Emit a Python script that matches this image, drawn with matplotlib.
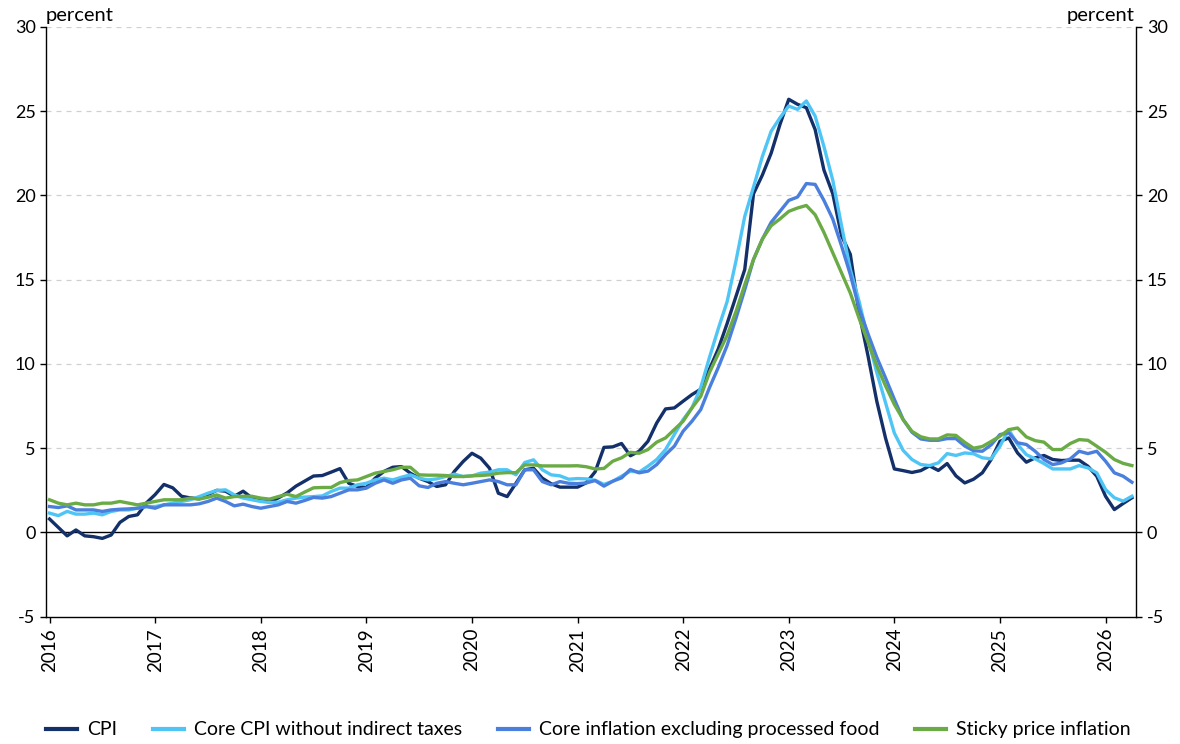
import matplotlib
matplotlib.use("Agg")
import matplotlib.pyplot as plt
import numpy as np

# monthly data, Jan 2016 .. Apr 2026
START_YEAR = 2016
YEARS = list(range(2016, 2027))

cpi = [
    0.8, 0.3, -0.2, 0.15, -0.2, -0.25, -0.35, -0.15, 0.6, 0.95, 1.05, 1.75,
    2.25, 2.85, 2.65, 2.15, 2.05, 2.0, 2.25, 2.5, 2.45, 2.15, 2.45, 2.05,
    1.95, 1.8, 2.05, 2.35, 2.75, 3.05, 3.35, 3.38, 3.58, 3.79, 2.92, 2.73,
    2.67, 3.22, 3.62, 3.87, 3.91, 3.52, 3.22, 3.02, 2.73, 2.83, 3.62, 4.21,
    4.7, 4.41, 3.81, 2.33, 2.13, 2.92, 3.72, 3.81, 3.22, 2.89, 2.69, 2.69,
    2.69, 2.95, 3.6, 5.05, 5.08, 5.28, 4.55, 4.82, 5.41, 6.5, 7.33, 7.39,
    7.79, 8.18, 8.5, 9.7, 10.9, 12.4, 14.0, 15.6, 20.1, 21.2, 22.5, 24.2,
    25.7, 25.4, 25.2, 23.9, 21.5, 20.1, 17.6, 16.5, 13.0, 10.5, 7.8, 5.6,
    3.77, 3.67, 3.56, 3.67, 3.95, 3.68, 4.09, 3.36, 2.94, 3.16, 3.54, 4.33,
    5.41, 5.61, 4.72, 4.17, 4.43, 4.57, 4.33, 4.27, 4.29, 4.29, 3.93, 3.34,
    2.15, 1.36, 1.72, 2.06,
]

core_cpi = [
    1.15, 1.0, 1.25, 1.09, 1.09, 1.15, 1.05, 1.25, 1.34, 1.34, 1.44, 1.54,
    1.54, 1.64, 1.74, 1.84, 1.94, 2.13, 2.33, 2.49, 2.53, 2.23, 2.04, 1.94,
    1.84, 1.78, 1.8, 1.94, 2.04, 2.1, 2.13, 2.17, 2.43, 2.63, 2.63, 2.83,
    2.92, 3.12, 3.22, 3.12, 3.28, 3.42, 3.22, 3.12, 3.18, 3.32, 3.46, 3.32,
    3.36, 3.52, 3.58, 3.72, 3.72, 3.42, 4.15, 4.31, 3.72, 3.42, 3.36, 3.16,
    3.2, 3.18, 3.1, 2.85, 3.04, 3.34, 3.64, 3.58, 3.93, 4.33, 4.92, 5.81,
    6.7, 7.39, 8.6, 10.4, 12.1, 13.7, 16.1, 18.75, 20.5, 22.3, 23.8, 24.6,
    25.3, 25.1, 25.6, 24.7, 22.9, 20.9, 18.2, 15.6, 13.7, 11.5, 9.5, 7.7,
    5.9, 4.87, 4.33, 4.03, 3.97, 4.13, 4.68, 4.57, 4.72, 4.67, 4.43, 4.37,
    5.12, 6.1, 5.22, 4.62, 4.37, 4.09, 3.77, 3.77, 3.77, 3.97, 3.83, 3.54,
    2.55, 2.06, 1.86, 2.15,
]

core_excl_food = [
    1.54, 1.48, 1.58, 1.34, 1.34, 1.34, 1.25, 1.34, 1.38, 1.4, 1.44, 1.54,
    1.44, 1.64, 1.64, 1.64, 1.64, 1.7, 1.84, 2.04, 1.84, 1.58, 1.68, 1.54,
    1.44, 1.54, 1.64, 1.84, 1.74, 1.9, 2.08, 2.04, 2.13, 2.33, 2.53, 2.53,
    2.63, 2.92, 3.12, 2.92, 3.12, 3.22, 2.77, 2.67, 2.92, 3.02, 2.92, 2.83,
    2.92, 3.02, 3.12, 3.02, 2.83, 2.83, 3.72, 3.72, 3.02, 2.83, 3.02, 2.92,
    2.9, 2.94, 3.08, 2.75, 3.04, 3.24, 3.74, 3.54, 3.64, 4.03, 4.62, 5.12,
    6.01, 6.6, 7.29, 8.6, 9.8, 11.1, 12.7, 14.4, 16.2, 17.4, 18.4, 19.05,
    19.7, 19.9, 20.7, 20.65, 19.7, 18.6, 17.0, 15.3, 13.3, 11.8, 10.4, 9.17,
    7.9, 6.7, 5.95, 5.55, 5.47, 5.47, 5.57, 5.57, 5.13, 4.85, 4.82, 5.2,
    5.81, 5.91, 5.32, 5.22, 4.82, 4.33, 4.03, 4.13, 4.37, 4.82, 4.68, 4.82,
    4.23, 3.54, 3.34, 2.98,
]

sticky = [
    1.94, 1.74, 1.64, 1.74, 1.64, 1.64, 1.74, 1.74, 1.84, 1.74, 1.64, 1.74,
    1.84, 1.94, 1.94, 1.94, 2.04, 1.98, 2.09, 2.23, 2.04, 2.13, 2.15, 2.15,
    2.04, 1.98, 2.13, 2.27, 2.13, 2.4, 2.65, 2.67, 2.67, 2.96, 3.08, 3.12,
    3.32, 3.52, 3.62, 3.72, 3.87, 3.87, 3.42, 3.4, 3.4, 3.38, 3.32, 3.32,
    3.36, 3.38, 3.42, 3.52, 3.55, 3.55, 4.01, 4.01, 3.95, 3.95, 3.95, 3.95,
    3.96, 3.9, 3.77, 3.8, 4.23, 4.43, 4.76, 4.7, 4.92, 5.36, 5.61, 6.11,
    6.6, 7.39, 8.08, 9.5, 10.6, 11.7, 13.1, 14.7, 16.2, 17.4, 18.2, 18.6,
    19.05, 19.25, 19.4, 18.85, 17.8, 16.6, 15.4, 14.2, 12.7, 11.3, 9.9, 8.7,
    7.6, 6.7, 6.0, 5.68, 5.55, 5.55, 5.79, 5.76, 5.35, 5.0, 5.1, 5.4,
    5.71, 6.1, 6.2, 5.67, 5.45, 5.36, 4.92, 4.92, 5.28, 5.51, 5.47, 5.12,
    4.76, 4.33, 4.1, 3.97,
]

SERIES = [
    ("CPI", cpi, "#13306a"),
    ("Core CPI without indirect taxes", core_cpi, "#4fc5f6"),
    ("Core inflation excluding processed food", core_excl_food, "#4a7fdd"),
    ("Sticky price inflation", sticky, "#6aab45"),
]

plt.rcParams["font.family"] = ["Lato", "DejaVu Sans"]
plt.rcParams["axes.unicode_minus"] = False

fig = plt.figure(figsize=(11.8, 7.44), dpi=100)
ax = fig.add_axes([0.039, 0.171, 0.924, 0.793])

x = np.arange(len(cpi))
for label, vals, color in SERIES:
    ax.plot(x, vals, color=color, lw=2.4, label=label)

ax.set_xlim(-0.4, 123.5)
ax.set_ylim(-5, 30)
ax.set_yticks(range(-5, 31, 5))
ax.set_xticks([(y - START_YEAR) * 12 for y in YEARS])
ax.set_xticklabels([str(y) for y in YEARS], rotation=90, fontsize=13.5)

# dashed grid, solid zero line
for v in range(5, 31, 5):
    ax.axhline(v, color="#d0d0d0", lw=0.9, ls=(0, (4, 4)), zorder=0)
ax.axhline(0, color="black", lw=1.0, zorder=1)

ax.spines["top"].set_visible(False)
for s in ("left", "right", "bottom"):
    ax.spines[s].set_linewidth(1.0)
ax.tick_params(axis="both", direction="out", length=4, width=1.0,
               right=True, labelright=True)
ax.tick_params(axis="y", labelsize=13)
ax.tick_params(axis="x", pad=4)

ax.text(0.0, 1.004, "percent", transform=ax.transAxes, ha="left", va="bottom", fontsize=14.5)
ax.text(0.998, 1.004, "percent", transform=ax.transAxes, ha="right", va="bottom", fontsize=14.5)

leg = fig.legend(loc="center", bbox_to_anchor=(0.4987, 0.019), ncol=4, frameon=False,
                 fontsize=14, handlelength=1.6, columnspacing=1.85, handletextpad=0.5,
                 borderpad=0.1)
for h in leg.get_lines():
    h.set_linewidth(3.0)

fig.savefig("out.png", dpi=100)
